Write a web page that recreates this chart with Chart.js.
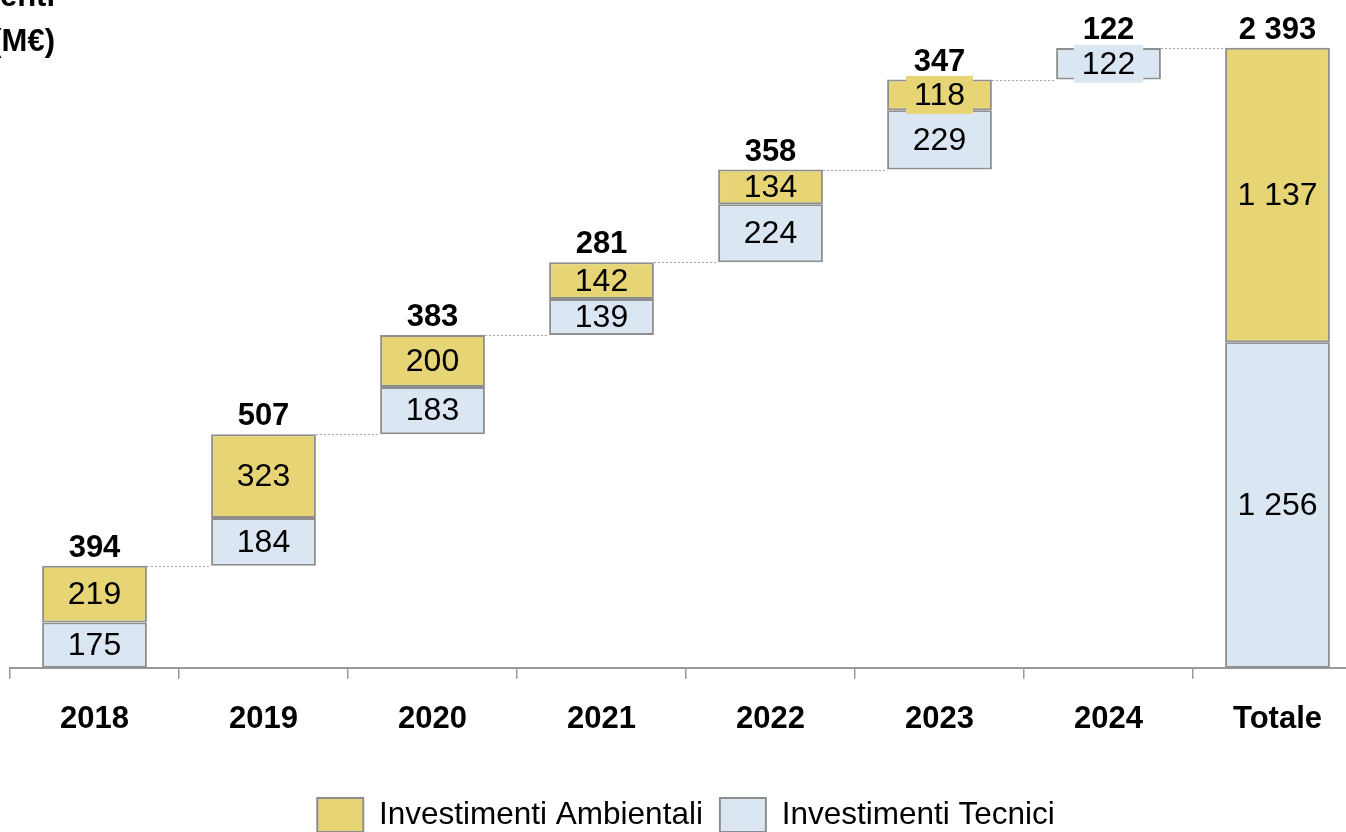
<!DOCTYPE html>
<html><head><meta charset="utf-8">
<script src="https://cdn.jsdelivr.net/npm/chart.js@4/dist/chart.umd.min.js"></script>
<style>
html,body{margin:0;padding:0;overflow:hidden;background:#fff;width:1346px;height:832px}
#wrap{position:absolute;left:0;top:0;width:1380px;height:870px}
</style></head>
<body><div id="wrap"><canvas id="c" width="1380" height="870"></canvas></div>
<script>
const categories = ['2018','2019','2020','2021','2022','2023','2024','Totale'];
const ambientali = [219, 323, 200, 142, 134, 118, 0, 1137];
const tecnici    = [175, 184, 183, 139, 224, 229, 122, 1256];
const totals     = [394, 507, 383, 281, 358, 347, 122, 2393];
const seriesNames = ['Investimenti Ambientali', 'Investimenti Tecnici'];
const axisTitle = ['Investimenti', '(M€)'];

const FONT = 'Arial, "Liberation Sans", sans-serif';
const YELLOW = '#E6D475', BLUE = '#DAE7F3', GREY = '#8E8E8E';

// waterfall ranges built from the arrays (last category is the total, starting at 0)
const tecRanges = [], ambRanges = [], tops = [];
let cum = 0;
categories.forEach((c, i) => {
  const isTotal = i === categories.length - 1;
  const start = isTotal ? 0 : cum;
  tecRanges.push([start, start + tecnici[i]]);
  ambRanges.push(ambientali[i] ? [start + tecnici[i], start + tecnici[i] + ambientali[i]] : null);
  tops.push(start + tecnici[i] + ambientali[i]);
  if (!isTotal) cum += tecnici[i] + ambientali[i];
});

const fmt = v => String(v).replace(/\B(?=(\d{3})+(?!\d))/g, ' ');

const wfPlugin = {
  id: 'wf',
  beforeDatasetsDraw(chart) {
    const ctx = chart.ctx, y = chart.scales.y, m = chart.getDatasetMeta(1);
    ctx.save();
    ctx.strokeStyle = '#a0a0a0'; ctx.lineWidth = 1; ctx.setLineDash([2, 2]);
    for (let i = 0; i < categories.length - 1; i++) {
      const a = m.data[i], b = m.data[i + 1];
      const py = Math.round(y.getPixelForValue(tops[i])) + 0.5;
      ctx.beginPath();
      ctx.moveTo(a.x + a.width / 2, py);
      ctx.lineTo(b.x - b.width / 2, py);
      ctx.stroke();
    }
    ctx.restore();
  },
  afterDatasetsDraw(chart) {
    const ctx = chart.ctx;
    ctx.save();
    ctx.font = '32px ' + FONT;
    ctx.textAlign = 'center'; ctx.textBaseline = 'middle';
    [[1, tecnici, BLUE], [0, ambientali, YELLOW]].forEach(([di, vals, col]) => {
      const m = chart.getDatasetMeta(di);
      vals.forEach((v, i) => {
        if (!v) return;
        const el = m.data[i];
        const cy = (el.y + el.base) / 2;
        const h = Math.abs(el.base - el.y);
        const t = fmt(v);
        if (h < 33) {
          const w = ctx.measureText(t).width + 16;
          ctx.fillStyle = col;
          ctx.fillRect(el.x - w / 2, cy - 19, w, 38);
        }
        ctx.fillStyle = '#000';
        ctx.fillText(t, el.x, cy + 1);
      });
    });
    // totals above bars
    const y = chart.scales.y, m = chart.getDatasetMeta(1);
    ctx.font = 'bold 31px ' + FONT;
    ctx.textBaseline = 'alphabetic';
    totals.forEach((v, i) => {
      const py = y.getPixelForValue(tops[i]);
      ctx.fillText(fmt(v), m.data[i].x, py - 9);
    });
    // axis title (partially outside the page, as in the reference)
    ctx.textAlign = 'right';
    ctx.fillText(axisTitle[0], 55, 6);
    ctx.fillText(axisTitle[1], 55, 51);
    ctx.restore();
  }
};

new Chart(document.getElementById('c'), {
  type: 'bar',
  data: {
    labels: categories,
    datasets: [
      { label: seriesNames[0], data: ambRanges, backgroundColor: YELLOW, borderColor: GREY, borderWidth: 2, borderSkipped: false },
      { label: seriesNames[1], data: tecRanges, backgroundColor: BLUE, borderColor: GREY, borderWidth: 2, borderSkipped: false }
    ]
  },
  options: {
    responsive: false,
    animation: false,
    layout: { padding: { left: 10, right: 18, top: 20, bottom: 28 } },
    datasets: { bar: { categoryPercentage: 1, barPercentage: 0.62, grouped: false } },
    scales: {
      x: {
        stacked: true,
        grid: { drawOnChartArea: false, drawTicks: true, tickLength: 11, color: '#999', offset: true, lineWidth: 1.5 },
        border: { display: true, color: '#999', width: 2 },
        ticks: { color: '#000', font: { family: FONT, size: 31, weight: 'bold' }, padding: 22 },
        afterFit: s => { s.height += 21; }
      },
      y: { display: false, stacked: false, min: 0, max: 2500 }
    },
    plugins: {
      legend: {
        position: 'bottom',
        labels: { color: '#000', font: { family: FONT, size: 31.5 }, boxWidth: 46, boxHeight: 34, padding: 17 }
      },
      tooltip: { enabled: false }
    }
  },
  plugins: [wfPlugin]
});
</script>
</body></html>
